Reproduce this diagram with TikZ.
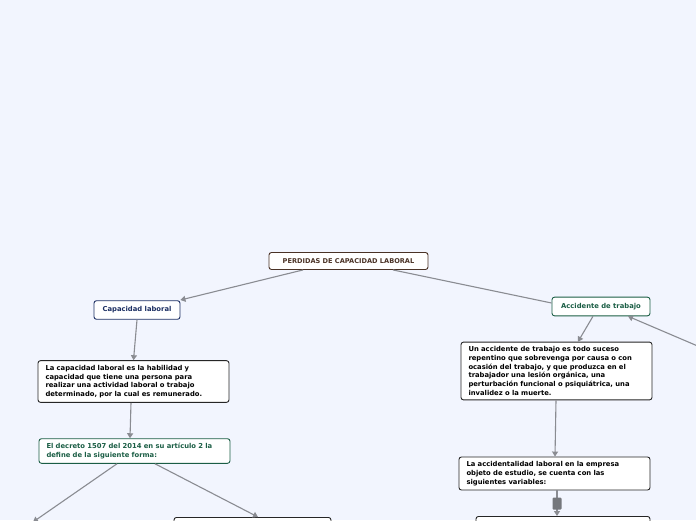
\documentclass[tikz,border=0pt]{standalone}
\usepackage{fontspec}
\setmainfont{DejaVu Sans}
\usetikzlibrary{arrows.meta,positioning,calc}
\definecolor{bgc}{HTML}{F2F5FE}
\definecolor{brownc}{HTML}{4A3226}
\definecolor{navyc}{HTML}{1C2F63}
\definecolor{greenc}{HTML}{1B5E45}
\definecolor{linec}{HTML}{8A8C92}
\begin{document}
\begin{tikzpicture}[x=1pt,y=-1pt, font=\bfseries\fontsize{6.8}{8.7}\selectfont,
  bx/.style={draw=#1,rounded corners=2.5pt,fill=white,line width=0.9pt,align=left,inner xsep=7.5pt,inner ysep=4.5pt},
  topic/.style={bx=#1,text=#1,align=center,inner ysep=6pt},
  arr/.style={-{Triangle[length=5pt,width=6pt]},linec,line width=1.1pt},
  lnk/.style={linec,line width=1.1pt}]
\fill[bgc] (0,0) rectangle (696,520);
\useasboundingbox (0,0) rectangle (696,520);
\clip (0,0) rectangle (696,520);
% left branch
\node[topic=brownc,minimum width=159pt,font=\bfseries\fontsize{6.6}{7}\selectfont] (root) at (348.5,261) {PERDIDAS DE CAPACIDAD LABORAL};
\node[topic=navyc,minimum width=86pt] (cap) at (137,310) {Capacidad laboral};
\node[bx=black!85,text width=176pt] (capdef) at (133.5,381.5) {La capacidad laboral es la habilidad y\\capacidad que tiene una persona para\\realizar una actividad laboral o trabajo\\determinado, por la cual es remunerado.};
\node[bx=greenc,text=greenc,text width=176pt] (decreto) at (134.5,451) {El decreto 1507 del 2014 en su artículo 2 la\\define de la siguiente forma:};
\node[bx=black!85,minimum width=157pt,minimum height=30pt,anchor=north] (defb) at (252.5,517) {};
\coordinate (defa) at (33,522);
% right branch
\node[topic=greenc,minimum width=98pt] (acc) at (601,306.5) {Accidente de trabajo};
\node[bx=black!85,text width=176pt] (accdef) at (556.5,371) {Un accidente de trabajo es todo suceso\\repentino que sobrevenga por causa o con\\ocasión del trabajo, y que produzca en el\\trabajador una lesión orgánica, una\\perturbación funcional o psiquiátrica, una\\invalidez o la muerte.};
\node[bx=black!85,text width=176pt] (var) at (554.5,473.5) {La accidentalidad laboral en la empresa\\objeto de estudio, se cuenta con las\\siguientes variables:};
\node[bx=black!85,minimum width=174pt,minimum height=30pt,anchor=north] (varb) at (563,516) {};
\coordinate (ext) at (700,347);
% connectors
\draw[arr] (root.south -| 303,0) -- (cap.east |- 0,300);
\draw[lnk] (root.south -| 393,0) -- (acc.west |- 0,303);
\draw[arr] (cap.south) -- (capdef.north);
\draw[arr] (capdef.south -| 131,0) -- (decreto.north -| 130,0);
\draw[arr] (decreto.south -| 117,0) -- (defa);
\draw[arr] (decreto.south -| 155,0) -- (defb.north -| 258,0);
\draw[arr] (acc.south -| 593,0) -- (accdef.north -| 578,0);
\draw[arr] (ext) -- (acc.south -| 628,0);
\draw[arr] (accdef.south -| 556,0) -- (var.north -| 555,0);
\draw[arr] (var.south -| 557,0) -- (varb.north -| 557,0);
\node[fill=linec!85!black,rounded corners=1pt,minimum width=9pt,minimum height=12pt,inner sep=0pt] (fold) at (557,503.5) {};
\end{tikzpicture}
\end{document}
